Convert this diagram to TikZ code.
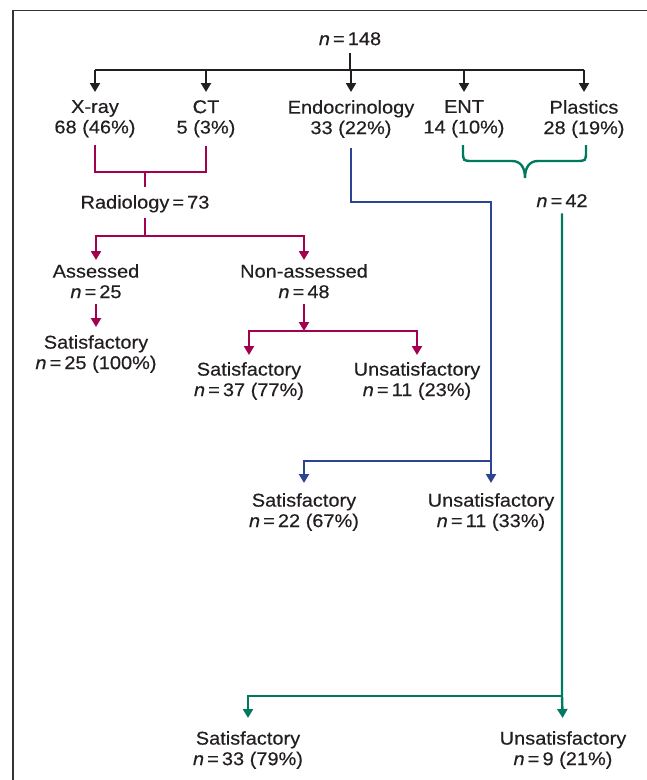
\documentclass[tikz,border=0pt]{standalone}
\usepackage{fontspec}
\setmainfont[FakeStretch=1.08,FakeBold=0.35]{Liberation Sans}
\usetikzlibrary{arrows.meta}
\definecolor{txt}{HTML}{231F20}
\definecolor{redc}{HTML}{A3004F}
\definecolor{bluec}{HTML}{2B4592}
\definecolor{greenc}{HTML}{007A5E}
\definecolor{framec}{HTML}{333333}
\newcommand{\nn}{\textit{n}\,=\,}
\begin{document}
\begin{tikzpicture}[x=1pt,y=-1pt,
  lbl/.style={anchor=north,align=center,inner sep=0pt,text=txt,font=\fontsize{18.5}{20.5}\selectfont},
  blk/.style={line width=2.2pt,draw=txt},
  redl/.style={line width=2.2pt,draw=redc},
  bluel/.style={line width=2.2pt,draw=bluec},
  greenl/.style={line width=2.4pt,draw=greenc},
  tip/.style={-{Triangle[width=10pt,length=9pt]}},
]
\useasboundingbox (0,0) rectangle (647,780);
\draw[framec, line width=1.8pt] (13,780) -- (13,10.5) -- (647,10.5);

% nodes
\node[lbl] (top) at (350,32) {\nn148};
\node[lbl] (xray) at (95,100) {X-ray\\68 (46\%)};
\node[lbl] (ct) at (206,100) {CT\\5 (3\%)};
\node[lbl] (endo) at (351,100) {Endocrinology\\33 (22\%)};
\node[lbl] (ent) at (464,100) {ENT\\14 (10\%)};
\node[lbl] (plas) at (584,100) {Plastics\\28 (19\%)};
\node[lbl] (rad) at (145,195) {Radiology\,=\,73};
\node[lbl] (ass) at (96,264) {Assessed\\\nn25};
\node[lbl] (nass) at (304,264) {Non-assessed\\\nn48};
\node[lbl] (s100) at (96,335) {Satisfactory\\\nn25 (100\%)};
\node[lbl] (s37) at (249,362) {Satisfactory\\\nn37 (77\%)};
\node[lbl] (u11) at (417,362) {Unsatisfactory\\\nn11 (23\%)};
\node[lbl] (s22) at (304,493) {Satisfactory\\\nn22 (67\%)};
\node[lbl] (u11b) at (491,493) {Unsatisfactory\\\nn11 (33\%)};
\node[lbl] (n42) at (562,194) {\nn42};
\node[lbl] (s33) at (248,731) {Satisfactory\\\nn33 (79\%)};
\node[lbl] (u9) at (563,731) {Unsatisfactory\\\nn9 (21\%)};

% black tree
\coordinate (h) at (350,70);
\draw[blk, shorten <=7pt] (top.south) -- (top.south |- h);
\draw[blk] (xray |- h) -- (plas |- h);
\foreach \n in {xray,ct,endo,ent,plas}
  \draw[blk,tip,shorten >=8pt] (\n |- h) -- (\n.north);

% red (radiology)
\coordinate (rb) at (145,172);
\draw[redl, shorten <=8pt] (xray.south) |- (rb);
\draw[redl, shorten <=8pt] (ct.south) |- (rb);
\draw[redl, shorten >=8pt] (rb) -- (rad.north);
\coordinate (rc) at (145,236);
\draw[redl, shorten <=5pt] (rad.south) -- (rc);
\draw[redl,tip,shorten >=4pt] (rc) -| (ass.north);
\draw[redl,tip,shorten >=4pt] (rc) -| (nass.north);
\draw[redl,tip,shorten <=6pt,shorten >=8pt] (ass.south) -- (s100.north);
\coordinate (rd) at (304,331);
\draw[redl,tip,shorten <=6pt] (nass.south) -- (rd);
\draw[redl,tip,shorten >=7pt] (rd) -| (s37.north);
\draw[redl,tip,shorten >=7pt] (rd) -| (u11.north);

% blue (endocrinology)
\coordinate (bj) at (491,202);
\coordinate (bk) at (491,461);
\draw[bluel,tip,shorten <=10pt,shorten >=10pt] (endo.south) |- (bj) -- (u11b.north);
\draw[bluel,tip,shorten >=10pt] (bk) -| (s22.north);

% green (ENT + plastics)
\draw[greenl] (463,145) -- (463,151) .. controls (463,161) .. (473,161) -- (512,161)
  .. controls (521,161) and (525,168) .. (525,178)
  .. controls (525,168) and (529,161) .. (538,161) -- (576,161)
  .. controls (586,161) .. (586,151) -- (586,145);
\coordinate (gj) at (562,696);
\draw[greenl,tip,shorten <=6pt,shorten >=13pt] (n42.south) -- (gj) -- (u9.north);
\draw[greenl,tip,shorten >=13pt] (gj) -| (s33.north);
\end{tikzpicture}
\end{document}
